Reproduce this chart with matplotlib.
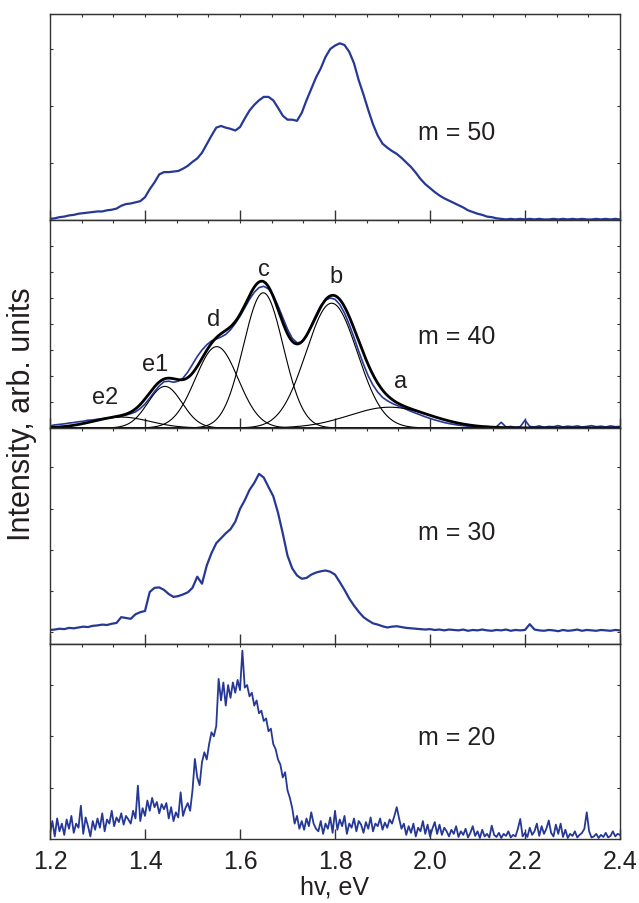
import numpy as np
import matplotlib.pyplot as plt
from matplotlib.ticker import MultipleLocator, FixedLocator

plt.rcParams['font.family'] = ['Liberation Sans', 'DejaVu Sans']

# ──────────────────────────────────────────────
# Dados (unidades arbitrárias por painel)
# ──────────────────────────────────────────────
m50 = [0.02, 0.03, 0.05, 0.06, 0.08, 0.09, 0.11, 0.12, 0.13, 0.14,
       0.15, 0.15, 0.17, 0.18, 0.20, 0.25, 0.28, 0.29, 0.31, 0.33,
       0.40, 0.54, 0.66, 0.80, 0.84, 0.84, 0.85, 0.86, 0.90, 0.95,
       1.02, 1.08, 1.18, 1.33, 1.48, 1.62, 1.65, 1.62, 1.60, 1.57,
       1.63, 1.78, 1.92, 2.02, 2.10, 2.16, 2.16, 2.10, 1.97, 1.83,
       1.76, 1.76, 1.74, 1.88, 2.10, 2.30, 2.50, 2.66, 2.86, 3.00,
       3.06, 3.10, 3.07, 2.95, 2.75, 2.45, 2.20, 1.93, 1.68, 1.48,
       1.34, 1.27, 1.21, 1.16, 1.09, 1.01, 0.93, 0.83, 0.72, 0.63,
       0.56, 0.49, 0.43, 0.38, 0.34, 0.30, 0.26, 0.22, 0.17, 0.14,
       0.11, 0.09, 0.06, 0.05, 0.03, 0.02, 0.01, 0.02, 0.01, 0.02,
       0.01, 0.02, 0.01, 0.02, 0.01, 0.01, 0.02, 0.01, 0.02, 0.01,
       0.02, 0.01, 0.02, 0.01, 0.01, 0.02, 0.01, 0.02, 0.01, 0.02, 0.01]

m40 = [0.08, 0.12, 0.14, 0.16, 0.19, 0.21, 0.24, 0.26, 0.30, 0.31,
       0.34, 0.36, 0.38, 0.40, 0.43, 0.46, 0.50, 0.55, 0.62, 0.75,
       0.92, 1.15, 1.40, 1.62, 1.78, 1.80, 1.76, 1.80, 1.92, 2.15,
       2.45, 2.75, 3.00, 3.20, 3.35, 3.42, 3.50, 3.60, 3.78, 4.02,
       4.30, 4.62, 4.95, 5.22, 5.40, 5.45, 5.35, 5.10, 4.70, 4.25,
       3.80, 3.45, 3.28, 3.30, 3.55, 3.95, 4.35, 4.70, 4.92, 5.00,
       4.95, 4.75, 4.42, 3.98, 3.48, 2.95, 2.45, 2.00, 1.65, 1.38,
       1.18, 1.05, 0.95, 0.87, 0.80, 0.72, 0.64, 0.57, 0.50, 0.43,
       0.37, 0.31, 0.26, 0.21, 0.17, 0.14, 0.11, 0.09, 0.07, 0.05,
       0.05, 0.04, 0.06, 0.03, 0.05, 0.22, 0.04, 0.06, 0.03, 0.05,
       0.30, 0.06, 0.04, 0.08, 0.03, 0.06, 0.05, 0.09, 0.04, 0.07,
       0.05, 0.08, 0.04, 0.06, 0.09, 0.05, 0.07, 0.04, 0.08, 0.05, 0.06]

m30 = [0.06, 0.07, 0.09, 0.08, 0.11, 0.10, 0.12, 0.14, 0.13, 0.16,
       0.17, 0.19, 0.18, 0.21, 0.23, 0.37, 0.35, 0.33, 0.44, 0.49,
       0.52, 0.98, 1.08, 1.09, 1.03, 0.93, 0.86, 0.88, 0.92, 0.97,
       1.08, 1.35, 1.18, 1.62, 1.92, 2.16, 2.28, 2.40, 2.50, 2.68,
       2.99, 3.20, 3.45, 3.62, 3.84, 3.75, 3.52, 3.30, 2.90, 2.40,
       1.86, 1.55, 1.38, 1.30, 1.32, 1.40, 1.45, 1.48, 1.50, 1.47,
       1.40, 1.22, 1.03, 0.82, 0.65, 0.50, 0.37, 0.29, 0.22, 0.19,
       0.15, 0.12, 0.14, 0.15, 0.13, 0.11, 0.10, 0.09, 0.08, 0.07,
       0.08, 0.06, 0.07, 0.05, 0.07, 0.06, 0.05, 0.07, 0.04, 0.06,
       0.05, 0.07, 0.05, 0.04, 0.06, 0.05, 0.07, 0.04, 0.06, 0.05,
       0.06, 0.20, 0.07, 0.05, 0.04, 0.06, 0.05, 0.03, 0.06, 0.04,
       0.05, 0.07, 0.04, 0.06, 0.05, 0.04, 0.06, 0.05, 0.04, 0.06, 0.05]

m20 = [0.10, 0.35, 0.05, 0.40, 0.15, 0.30, 0.08, 0.38, 0.20, 0.45,
       0.12, 0.30, 0.22, 0.65, 0.10, 0.42, 0.25, 0.05, 0.35, 0.18,
       0.40, 0.22, 0.50, 0.15, 0.38, 0.30, 0.55, 0.25, 0.42, 0.33,
       0.50, 0.28, 0.45, 0.38, 0.30, 0.55, 0.40, 1.04, 0.35, 0.60,
       0.45,
       0.75, 0.55, 0.80, 0.62, 0.72, 0.50, 0.68, 0.58, 0.70, 0.40,
       0.62, 0.35, 0.52, 0.42, 0.91, 0.45, 0.60, 0.70, 0.55, 0.95,
       1.56, 1.20, 1.05, 1.50, 1.69, 1.55, 1.85, 2.08, 2.00, 2.20,
       3.12, 2.70, 3.05, 2.60, 3.00, 2.75, 3.05, 2.85, 3.10, 2.90,
       3.67, 2.95, 3.00, 2.78, 2.85, 2.60, 2.70, 2.45, 2.50, 2.30,
       2.35, 2.10, 2.15, 1.85, 1.75, 1.55, 1.45, 1.20, 1.30, 0.95,
       0.80, 0.60, 0.30, 0.45, 0.20, 0.35, 0.18, 0.40, 0.25, 0.52,
       0.30, 0.20,
       0.15, 0.35, 0.10, 0.30, 0.20, 0.42, 0.12, 0.55, 0.18, 0.38,
       0.25, 0.45, 0.10, 0.30, 0.22, 0.40, 0.15, 0.35, 0.28, 0.12,
       0.33, 0.20, 0.42, 0.15, 0.30, 0.25, 0.40, 0.18, 0.32, 0.22,
       0.38, 0.30, 0.45, 0.62, 0.40, 0.20, 0.30, 0.08, 0.25, 0.12,
       0.30, 0.05, 0.22, 0.15, 0.35, 0.10, 0.28, 0.05, 0.20, 0.33,
       0.10, 0.28, 0.08, 0.22, 0.15, 0.05, 0.18, 0.10, 0.25, 0.04,
       0.15, 0.08, 0.20, 0.03, 0.12, 0.25, 0.06, 0.15, 0.02, 0.18,
       0.05, 0.10, 0.03, 0.26, 0.08, 0.04, 0.12, 0.02, 0.10, 0.06,
       0.15, 0.03, 0.08, 0.05, 0.20, 0.39, 0.05, 0.12, 0.04, 0.22,
       0.08, 0.15, 0.30, 0.06, 0.25, 0.10, 0.20, 0.36, 0.12, 0.05,
       0.28, 0.10, 0.30, 0.04, 0.18, 0.02, 0.10, 0.06, 0.15, 0.03,
       0.08, 0.12, 0.20, 0.52, 0.15, 0.03, 0.05, 0.10, 0.02, 0.08,
       0.04, 0.12, 0.03, 0.06, 0.15, 0.05, 0.10, 0.08]

# componentes gaussianas do ajuste (m = 40): centro [eV], altura, sigma [eV]
picos_nome   = ["a", "b", "c", "d", "e1", "e2"]
picos_centro = [1.915, 1.793, 1.649, 1.551, 1.442, 1.350]
picos_altura = [0.80, 4.80, 5.20, 3.13, 1.60, 0.42]
picos_sigma  = [0.085, 0.054, 0.042, 0.045, 0.036, 0.060]
rotulo_x = [1.939, 1.802, 1.6505, 1.545, 1.421, 1.316]
rotulo_y = [1.81, 5.85, 6.12, 4.19, 2.46, 1.19]

paineis = [
    # (dados, texto, y do texto, ylim, yticks)
    (m50, "m = 50", 1.54, (0, 3.614), [1, 2, 3]),
    (m40, "m = 40", 3.55, (0, 8.0), [1, 2, 3, 4, 5, 6, 7]),
    (m30, "m = 30", 2.43, (-0.28, 4.95), [0, 1, 2, 3, 4]),
    (m20, "m = 20", 1.98, (0, 3.80), [1, 2, 3]),
]

# ──────────────────────────────────────────────
# Layout (em pixels da figura 639x904)
# ──────────────────────────────────────────────
W, H = 639, 904
x_esq, x_dir = 50, 620
bordas = [15, 221, 429, 645, 840]
azul = "#263896"
cinza = "#333333"
preto = "#231f20"

fig = plt.figure(figsize=(W / 100, H / 100), dpi=100)

eixos = []
for i, (dados, texto, ty, ylim, yt) in enumerate(paineis):
    topo, base = bordas[i], bordas[i + 1]
    ax = fig.add_axes([x_esq / W, 1 - base / H, (x_dir - x_esq) / W, (base - topo) / H])
    eixos.append(ax)

    x = np.linspace(1.2, 2.4, len(dados))
    lw = {0: 1.6, 1: 1.2, 2: 1.6, 3: 1.3}[i]
    ax.plot(x, dados, color=azul, lw=lw)

    ax.set_xlim(1.2, 2.4)
    ax.set_ylim(*ylim)
    ax.text(2.056, ty, texto, fontsize=18, ha="center", va="center", color=preto)

    for s in ax.spines.values():
        s.set_color(cinza)
        s.set_linewidth(1.0)

    ax.xaxis.set_major_locator(MultipleLocator(0.2))
    ax.tick_params(axis="x", which="major", direction="in", length=7, width=1.0,
                   color=cinza, top=False, bottom=True,
                   labelbottom=(i == 3), labelsize=18, pad=7, labelcolor=preto)
    ax.yaxis.set_major_locator(FixedLocator(yt))
    ax.tick_params(axis="y", direction="in", length=2.5, width=0.8, color=cinza,
                   left=True, right=True, labelleft=False)

    sec = ax.secondary_xaxis("top")
    sec.xaxis.set_major_locator(FixedLocator(1.2 + np.arange(19) / 15))
    sec.tick_params(direction="in", length=2.5, width=0.8, color=cinza, labeltop=False)
    sec.spines["top"].set_color(cinza)

# ajuste do painel m = 40
ax2 = eixos[1]
xf = np.linspace(1.2, 2.4, 800)
soma = np.zeros_like(xf)
for c, a, s in zip(picos_centro, picos_altura, picos_sigma):
    g = a * np.exp(-(xf - c) ** 2 / (2 * s ** 2))
    soma += g
    ax2.plot(xf, g, color="black", lw=0.8)
ax2.plot(xf, soma, color="black", lw=2.0)
for nome, rx, ry in zip(picos_nome, rotulo_x, rotulo_y):
    ax2.text(rx, ry, nome, fontsize=17, ha="center", va="center", color=preto)

eixos[3].set_xlabel("hv, eV", fontsize=18, labelpad=1, color=preto)
fig.text(22 / W, 1 - 414 / H, "Intensity, arb. units", rotation=90,
         fontsize=22, ha="center", va="center", color=preto)

plt.savefig("out.png", dpi=100)
plt.close()
